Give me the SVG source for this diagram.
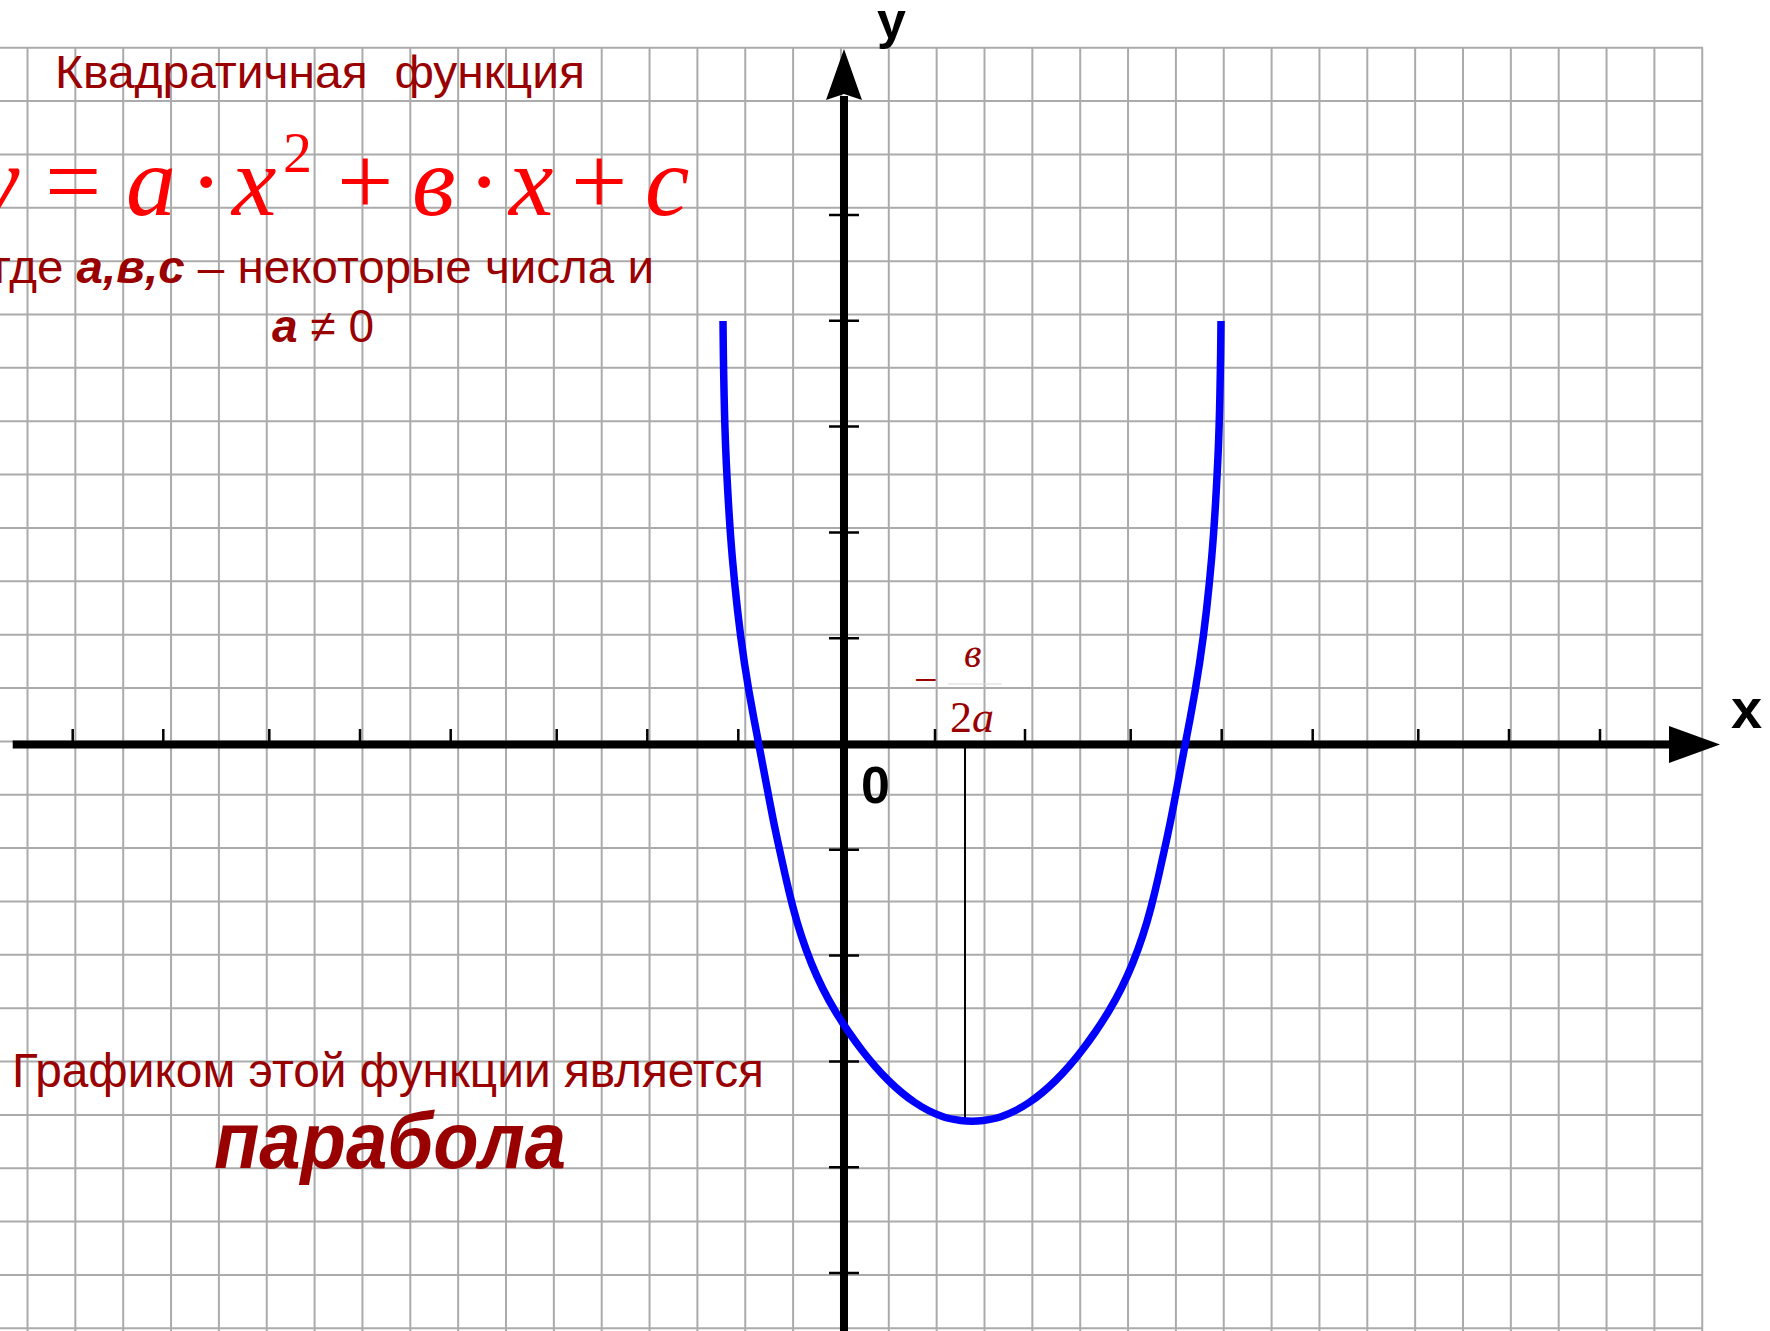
<svg xmlns="http://www.w3.org/2000/svg" width="1770" height="1331" viewBox="0 0 1770 1331">
<style>
.grid line{stroke:#ababab;stroke-width:2}
.axis{stroke:#000;stroke-width:8;fill:none}
.tick{stroke:#000;stroke-width:2.5}
.dr{fill:#990000;font-family:"Liberation Sans",Arial,sans-serif}
.formula{fill:#ff0000;font-family:"Liberation Serif","Times New Roman",serif;font-size:100px}
.it{font-style:italic}
.fr{fill:#990000;font-family:"Liberation Serif","Times New Roman",serif}
.lbl{fill:#000;font-family:"Liberation Sans",Arial,sans-serif;font-weight:bold}
</style>
<rect width="1770" height="1331" fill="#fff"/>
<g id="grid" class="grid">
<line x1="27.5" y1="47.7" x2="27.5" y2="1331"/><line x1="75.35" y1="47.7" x2="75.35" y2="1331"/><line x1="123.2" y1="47.7" x2="123.2" y2="1331"/><line x1="171.05" y1="47.7" x2="171.05" y2="1331"/><line x1="218.9" y1="47.7" x2="218.9" y2="1331"/><line x1="266.75" y1="47.7" x2="266.75" y2="1331"/><line x1="314.6" y1="47.7" x2="314.6" y2="1331"/><line x1="362.45" y1="47.7" x2="362.45" y2="1331"/><line x1="410.3" y1="47.7" x2="410.3" y2="1331"/><line x1="458.15" y1="47.7" x2="458.15" y2="1331"/><line x1="506" y1="47.7" x2="506" y2="1331"/><line x1="553.85" y1="47.7" x2="553.85" y2="1331"/><line x1="601.7" y1="47.7" x2="601.7" y2="1331"/><line x1="649.55" y1="47.7" x2="649.55" y2="1331"/><line x1="697.4" y1="47.7" x2="697.4" y2="1331"/><line x1="745.25" y1="47.7" x2="745.25" y2="1331"/><line x1="793.1" y1="47.7" x2="793.1" y2="1331"/><line x1="840.95" y1="47.7" x2="840.95" y2="1331"/><line x1="888.8" y1="47.7" x2="888.8" y2="1331"/><line x1="936.65" y1="47.7" x2="936.65" y2="1331"/><line x1="984.5" y1="47.7" x2="984.5" y2="1331"/><line x1="1032.35" y1="47.7" x2="1032.35" y2="1331"/><line x1="1080.2" y1="47.7" x2="1080.2" y2="1331"/><line x1="1128.05" y1="47.7" x2="1128.05" y2="1331"/><line x1="1175.9" y1="47.7" x2="1175.9" y2="1331"/><line x1="1223.75" y1="47.7" x2="1223.75" y2="1331"/><line x1="1271.6" y1="47.7" x2="1271.6" y2="1331"/><line x1="1319.45" y1="47.7" x2="1319.45" y2="1331"/><line x1="1367.3" y1="47.7" x2="1367.3" y2="1331"/><line x1="1415.15" y1="47.7" x2="1415.15" y2="1331"/><line x1="1463" y1="47.7" x2="1463" y2="1331"/><line x1="1510.85" y1="47.7" x2="1510.85" y2="1331"/><line x1="1558.7" y1="47.7" x2="1558.7" y2="1331"/><line x1="1606.55" y1="47.7" x2="1606.55" y2="1331"/><line x1="1654.4" y1="47.7" x2="1654.4" y2="1331"/><line x1="1702.25" y1="47.7" x2="1702.25" y2="1331"/>
<line x1="0" y1="47.7" x2="1703" y2="47.7"/><line x1="0" y1="101.06" x2="1703" y2="101.06"/><line x1="0" y1="154.42" x2="1703" y2="154.42"/><line x1="0" y1="207.78" x2="1703" y2="207.78"/><line x1="0" y1="261.14" x2="1703" y2="261.14"/><line x1="0" y1="314.5" x2="1703" y2="314.5"/><line x1="0" y1="367.86" x2="1703" y2="367.86"/><line x1="0" y1="421.22" x2="1703" y2="421.22"/><line x1="0" y1="474.58" x2="1703" y2="474.58"/><line x1="0" y1="527.94" x2="1703" y2="527.94"/><line x1="0" y1="581.3" x2="1703" y2="581.3"/><line x1="0" y1="634.66" x2="1703" y2="634.66"/><line x1="0" y1="688.02" x2="1703" y2="688.02"/><line x1="0" y1="741.38" x2="1703" y2="741.38"/><line x1="0" y1="794.74" x2="1703" y2="794.74"/><line x1="0" y1="848.1" x2="1703" y2="848.1"/><line x1="0" y1="901.46" x2="1703" y2="901.46"/><line x1="0" y1="954.82" x2="1703" y2="954.82"/><line x1="0" y1="1008.18" x2="1703" y2="1008.18"/><line x1="0" y1="1061.54" x2="1703" y2="1061.54"/><line x1="0" y1="1114.9" x2="1703" y2="1114.9"/><line x1="0" y1="1168.26" x2="1703" y2="1168.26"/><line x1="0" y1="1221.62" x2="1703" y2="1221.62"/><line x1="0" y1="1274.98" x2="1703" y2="1274.98"/><line x1="0" y1="1328.34" x2="1703" y2="1328.34"/>
</g>
<g id="connectors">
<g id="x-axis">
<line class="axis" x1="12.7" y1="744.5" x2="1672" y2="744.5"/>
<polygon points="1669,726 1720,744.5 1669,763" fill="#000"/>
<path class="tick" d="M72.7 729V744M163.3 729V744M269.3 729V744M360 729V744M450.7 729V744M556.7 729V744M647.3 729V744M738.3 729V744M935 729V744M1025 729V744M1130.7 729V744M1221.7 729V744M1312.7 729V744M1418.3 729V744M1509 729V744M1600 729V744"/>
</g>
<g id="y-axis">
<line class="axis" x1="844" y1="1331" x2="844" y2="96"/>
<polygon points="826,100 844,49 862,100 844,94" fill="#000"/>
<path class="tick" d="M829 215H859M829 320.8H859M829 426.6H859M829 532.4H859M829 638.2H859M829 849.8H859M829 955.6H859M829 1061.4H859M829 1167.2H859M829 1273H859"/>
</g>
<line id="vertex-line" x1="965" y1="748" x2="965" y2="1122" stroke="#000" stroke-width="2"/>
</g>
<g id="parabola">
<path d="M723,321 L723.25,344 Q723.5,367 724.15,397 Q724.8,427 725.75,450 Q726.7,473 728.45,503 Q730.2,533 732.35,558 Q734.5,583 737.5,610 Q740.5,637 744.5,663.5 Q748.5,690 753.6,717 Q758.7,744 762.35,763 Q766,782 769.75,802 Q773.5,822 777.65,841 Q781.8,860 785.4,876 Q789,892 792.9,907 Q796.8,922 801.4,936 Q806,950 811.25,963 Q816.5,976 822.5,988 Q828.5,1000 835.15,1011 Q841.8,1022 848.7,1032 Q855.6,1042 862.15,1050.5 Q868.7,1059 875.25,1066.5 Q881.8,1074 888.4,1080.5 Q895,1087 901.6,1092.5 Q908.2,1098 914.9,1102.5 Q921.6,1107 928.4,1110.5 Q935.2,1114 942.35,1116.5 Q949.5,1119 960.75,1120.5 Q972,1122 983.25,1120.5 Q994.5,1119 1001.65,1116.5 Q1008.8,1114 1015.6,1110.5 Q1022.4,1107 1029.1,1102.5 Q1035.8,1098 1042.4,1092.5 Q1049,1087 1055.6,1080.5 Q1062.2,1074 1068.75,1066.5 Q1075.3,1059 1081.85,1050.5 Q1088.4,1042 1095.3,1032 Q1102.2,1022 1108.85,1011 Q1115.5,1000 1121.5,988 Q1127.5,976 1132.75,963 Q1138,950 1142.6,936 Q1147.2,922 1151.1,907 Q1155,892 1158.6,876 Q1162.2,860 1166.35,841 Q1170.5,822 1174.25,802 Q1178,782 1181.65,763 Q1185.3,744 1190.4,717 Q1195.5,690 1199.5,663.5 Q1203.5,637 1206.5,610 Q1209.5,583 1211.65,558 Q1213.8,533 1215.55,503 Q1217.3,473 1218.25,450 Q1219.2,427 1219.85,397 Q1220.5,367 1220.75,344 L1221,321" fill="none" stroke="#0000ff" stroke-width="7.5" stroke-linejoin="round"/>
</g>
<g id="title">
<text class="dr" x="55" y="88.3" font-size="46" textLength="530" lengthAdjust="spacingAndGlyphs" xml:space="preserve">Квадратичная  функция</text>
</g>
<g id="formula" class="formula">
<text class="it" x="-25" y="215">y</text>
<text x="45" y="215">=</text>
<text class="it" x="126" y="215">a</text>
<text x="189.5" y="215">·</text>
<text class="it" x="232" y="215">x</text>
<text x="283" y="172" font-size="58">2</text>
<text x="337" y="215">+</text>
<text class="it" x="412" y="215">в</text>
<text x="467.5" y="215">·</text>
<text class="it" x="509" y="215">x</text>
<text x="571" y="215">+</text>
<text class="it" x="645" y="215">c</text>
</g>
<g id="condition">
<text class="dr" x="-6" y="283.3" font-size="46" textLength="660" lengthAdjust="spacingAndGlyphs">где <tspan font-weight="bold" font-style="italic">а,в,с</tspan> – некоторые числа и</text>
<text class="dr" x="272" y="341.7" font-size="46"><tspan font-weight="bold" font-style="italic">а</tspan> ≠ 0</text>
</g>
<g id="vertex-label">
<text class="fr" x="914" y="694" font-size="42">−</text>
<text class="fr it" x="964" y="667" font-size="40">в</text>
<line x1="948" y1="684" x2="1001.7" y2="684" stroke="#d8d8d8" stroke-width="1"/>
<text class="fr" x="950" y="731.7" font-size="44">2<tspan font-style="italic">a</tspan></text>
</g>
<g id="axis-labels">
<text class="lbl" x="861" y="803.3" font-size="52">0</text>
<text class="lbl" x="1731" y="728" font-size="56">x</text>
<text class="lbl" x="877" y="38" font-size="52">y</text>
</g>
<g id="caption">
<text class="dr" x="12" y="1087.3" font-size="48" textLength="752" lengthAdjust="spacingAndGlyphs">Графиком этой функции является</text>
<text class="dr" x="214" y="1168.3" font-size="80" font-weight="bold" font-style="italic" textLength="352" lengthAdjust="spacingAndGlyphs">парабола</text>
</g>
</svg>
